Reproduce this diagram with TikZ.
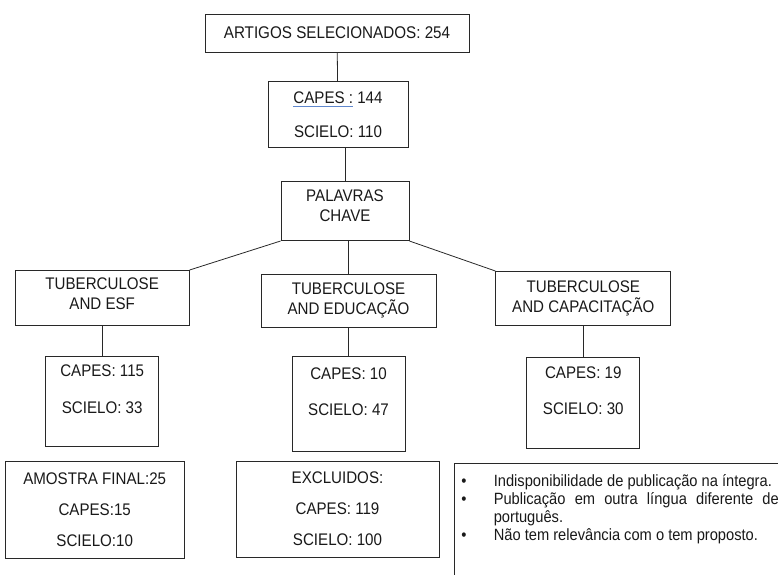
\documentclass[tikz,border=0pt]{standalone}
\usepackage{fontspec}
\setmainfont{Liberation Sans}[FakeStretch=0.9]
\usetikzlibrary{positioning}

\definecolor{linha}{RGB}{40,40,40}
\definecolor{texto}{RGB}{25,25,25}
\definecolor{corretor}{RGB}{95,135,205}

% sublinhado azul do corretor ortografico
\newsavebox\caixatexto
\newcommand\sublinhado[1]{\sbox\caixatexto{#1}\rlap{\textcolor{corretor}{\rule[-3.2pt]{\wd\caixatexto}{1.3pt}}}\usebox\caixatexto}
\newcommand{\marcador}[1]{\par\noindent\hangindent=35pt\hangafter=1\makebox[35pt][l]{\hspace{2.5pt}\textbullet}#1\par}

\tikzset{
  caixa/.style={draw=linha,line width=0.8pt,rectangle,inner sep=0pt,align=center,text=texto,font=\fontsize{16.8}{20}\selectfont},
  ligacao/.style={draw=linha,line width=0.8pt},
}

\begin{document}
\begin{tikzpicture}[x=1pt,y=1pt]
      \clip (0,0) rectangle (778,-574);

      \node[caixa,minimum width=264pt,minimum height=38pt,font=\fontsize{16.9}{17}\selectfont] (artigos) at (337,-33) {ARTIGOS SELECIONADOS: 254};
      \node[caixa,minimum width=140pt,minimum height=66pt,font=\fontsize{16.8}{33.4}\selectfont,below = 29pt of artigos,xshift=1pt] (bases) {\sublinhado{CAPES :} 144\\SCIELO: 110};
      \node[caixa,minimum width=128pt,minimum height=59pt,below = 33pt of bases,xshift=7pt] (palavras) {PALAVRAS\\CHAVE\\[-10pt]\phantom{X}};
      \draw[ligacao] (artigos)--(bases);
      \draw[ligacao] (palavras.north)--(palavras.north |- bases.south);

      % descritores
      \node[caixa,minimum width=175pt,minimum height=53pt,below = 33pt of palavras,xshift=3.5pt] (educ) {TUBERCULOSE\\AND EDUCAÇÃO};
      \node[caixa,minimum width=174pt,minimum height=55pt,left = 71pt of educ,yshift=3pt] (esf) {TUBERCULOSE\\AND ESF\\[-12pt]\phantom{X}};
      \node[caixa,minimum width=175pt,minimum height=54pt,right = 59pt of educ,yshift=2.5pt] (capac) {TUBERCULOSE\\AND CAPACITAÇÃO};
      \draw[ligacao] (palavras.south west)--(esf.north east);
      \draw[ligacao] (palavras.south -| educ)--(educ.north);
      \draw[ligacao] (palavras.south east)--(capac.north west);

      % resultados por base
      \node[caixa,minimum width=113pt,minimum height=90pt,font=\fontsize{16.8}{36.5}\selectfont,below = 30pt of esf] (esfn) {CAPES: 115\\SCIELO: 33\\[-12pt]\phantom{X}};
      \node[caixa,minimum width=113pt,minimum height=95pt,font=\fontsize{16.8}{36.5}\selectfont,below = 28pt of educ] (educn) {CAPES: 10\\SCIELO: 47\\[-12pt]\phantom{X}};
      \node[caixa,minimum width=113pt,minimum height=91pt,font=\fontsize{16.8}{36.5}\selectfont,below = 31pt of capac] (capacn) {CAPES: 19\\SCIELO: 30\\[-12pt]\phantom{X}};
      \draw[ligacao] (esf)--(esfn);
      \draw[ligacao] (educ)--(educn);
      \draw[ligacao] (capac)--(capacn);

      % amostra e exclusoes
      \node[caixa,minimum width=179pt,minimum height=97pt,font=\fontsize{16.8}{31}\selectfont,below = 14pt of esfn,xshift=-7.5pt] (amostra) {AMOSTRA FINAL:25\\CAPES:15\\SCIELO:10};
      \node[caixa,minimum width=203pt,minimum height=96pt,font=\fontsize{16.8}{31}\selectfont,below = 9pt of educn,xshift=-11pt] (excl) {EXCLUIDOS:\\CAPES: 119\\SCIELO: 100};
      \node[draw=linha,line width=0.8pt,inner sep=4pt,text width=320pt,align=justify,minimum height=113pt,text=texto,font=\fontsize{16.3}{18}\selectfont,right = 15pt of excl.north east,anchor=north west,yshift=-2pt] (motivos) {\tolerance=9999\hyphenpenalty=10000\hbadness=10000
        \marcador{Indisponibilidade de publicação na íntegra.}
        \marcador{Publicação em outra língua diferente de português.}
        \marcador{Não tem relevância com o tem proposto.}
        \vspace*{26.5pt}};
    \end{tikzpicture}
\end{document}
